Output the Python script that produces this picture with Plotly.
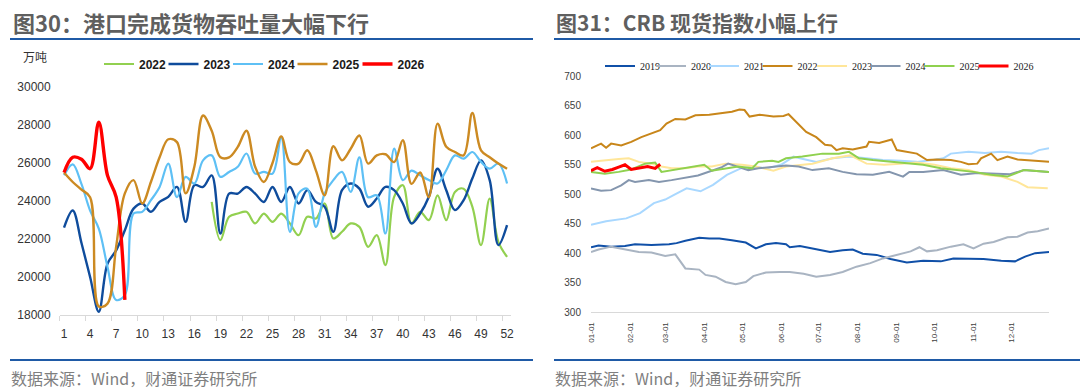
import plotly.graph_objects as go
import pandas as pd

# ---------------- Left chart: port cargo throughput (万吨), weekly ----------------
weeks = list(range(1, 53))
week_ticks = list(range(1, 53, 3))

port_2022 = [None] * 17 + [23950, 21940, 23170, 23340, 23430, 22820, 23340, 22900, 23340, 22820,
                           22200, 23170, 23080, 23870, 22030, 22380, 22820, 22640, 21590, 22200,
                           20630, 24220, 24830, 22820, 23430, 22990, 24300, 22990, 24480, 24650,
                           23700, 21680, 24130, 21850, 21060]
port_2023 = [22600, 23500, 21800, 20000, 18170, 20700, 21400, 22460, 23600, 23870,
             23430, 23950, 24220, 24740, 22900, 24830, 24740, 25350, 22290, 24390,
             24390, 24740, 24390, 23950, 24740, 23950, 24740, 23870, 24570, 23950,
             23700, 22380, 24570, 24920, 24650, 23700, 24130, 24740, 24570, 23870,
             22820, 23340, 24220, 25700, 24570, 23520, 24040, 25180, 26140, 25100,
             21680, 22730]
port_2024 = [25350, 25930, 24900, 23500, 22550, 20540, 18790, 19050, 23340, 23430,
             24040, 24740, 25970, 24200, 25270, 24920, 26140, 26400, 25270, 25530,
             25800, 26500, 25440, 25530, 25440, 27330, 22380, 24400, 24650, 22640,
             24400, 25100, 25530, 24480, 26300, 24200, 24300, 22290, 26760, 25100,
             25600, 25350, 25100, 24920, 25620, 26400, 26230, 26580, 26060, 25700,
             25970, 24920]
port_2025 = [25500, 25000, 24600, 24200, 18450, 18600, 21600, 24400, 25100, 23870,
             25000, 26300, 27250, 27100, 24400, 25800, 28500, 27700, 26300, 26300,
             26850, 27700, 25800, 25000, 26000, 27400, 26050, 25970, 26670, 25600,
             24300, 26880, 26140, 26750, 27450, 25970, 26400, 26460, 26050, 27200,
             24900, 25500, 24200, 28070, 26850, 26580, 26400, 28630, 26670, 26300,
             25970, 25700]
port_2026 = [25500, 26300, 26200, 25700, 28150, 25350, 24200, 18800]

port_names = ["2022", "2023", "2024", "2025", "2026"]
port_colors = ["#92D050", "#0F4C9C", "#5EC0F5", "#CC8A22", "#FF0000"]
port_widths = [2.2, 2.4, 2.2, 2.4, 3.4]
port_series = [port_2022, port_2023, port_2024, port_2025, port_2026]
port_legend_x = [99, 163.5, 228, 292.5, 357.5]          # legend entry left edges (px)

# ---------------- Right chart: CRB spot index, day-of-year ----------------
crb_2019_d = [0, 6, 16, 27, 35, 48, 62, 68, 75, 86, 94, 102, 112, 123, 131, 139, 147, 155, 158, 166,
              176, 186, 190, 200, 208, 216, 227, 238, 251, 264, 278, 288, 302, 312, 326, 337, 345, 353, 364]
crb_2019_v = [410, 413, 411, 412, 415, 414, 415, 417, 421, 426, 425, 425, 422, 418, 408, 415, 417, 415, 410, 412,
              408, 404, 402, 405, 406, 399, 397, 390, 384, 387, 386, 391, 390, 390, 387, 386, 394, 400, 402]
crb_2020_d = [0, 6, 16, 27, 38, 48, 59, 67, 75, 86, 91, 99, 107, 115, 123, 129, 139, 150, 158, 169,
              179, 190, 200, 211, 222, 232, 243, 254, 261, 267, 275, 286, 296, 304, 312, 320, 331, 339, 347, 355, 364]
crb_2020_v = [402, 406, 411, 406, 402, 401, 395, 398, 374, 372, 363, 360, 351, 347, 351, 361, 367, 368, 368, 365,
              360, 363, 368, 377, 383, 391, 397, 403, 410, 403, 405, 411, 415, 408, 416, 419, 427, 428, 435, 437, 442]
crb_2021_d = [0, 12, 28, 39, 50, 59, 66, 76, 87, 97, 108, 119, 129, 140, 151, 161, 166, 179, 192, 205,
              219, 232, 246, 259, 272, 280, 286, 300, 313, 326, 339, 350, 356, 364]
crb_2021_v = [448, 454, 459, 468, 485, 491, 499, 510, 505, 516, 533, 544, 547, 544, 550, 564, 561, 555, 561, 564,
              561, 558, 557, 555, 558, 561, 569, 572, 570, 572, 570, 569, 575, 578]
crb_2022_d = [0, 8, 12, 16, 24, 32, 40, 48, 55, 60, 67, 75, 83, 94, 104, 112, 118, 122, 126, 134,
              145, 153, 157, 163, 171, 179, 186, 191, 195, 200, 208, 219, 221, 229, 239, 243, 252, 259, 267, 275,
              286, 294, 300, 307, 310, 318, 323, 331, 339, 350, 364]
crb_2022_v = [578, 586, 579, 586, 583, 589, 597, 603, 609, 620, 628, 627, 634, 635, 638, 640, 644, 643, 632, 635,
              632, 633, 636, 623, 606, 597, 584, 583, 575, 578, 576, 581, 589, 587, 593, 575, 572, 569, 558, 559,
              558, 555, 551, 552, 561, 569, 558, 564, 559, 557, 555]
crb_2023_d = [0, 11, 22, 30, 38, 48, 56, 64, 75, 85, 96, 107, 120, 131, 145, 155, 166, 176, 192, 206,
              219, 233, 246, 259, 273, 286, 300, 313, 326, 339, 347, 363]
crb_2023_v = [555, 558, 560, 561, 555, 552, 547, 544, 544, 547, 547, 552, 550, 547, 540, 547, 550, 552, 561, 566,
              552, 550, 552, 554, 550, 544, 541, 533, 530, 521, 512, 510]
crb_2024_d = [0, 8, 16, 24, 30, 35, 46, 54, 64, 75, 85, 96, 104, 109, 117, 125, 133, 144, 155, 165,
              176, 189, 200, 211, 224, 237, 248, 253, 264, 280, 294, 307, 320, 333, 344, 354, 364]
crb_2024_v = [510, 506, 507, 515, 524, 521, 524, 521, 524, 528, 532, 540, 546, 552, 546, 541, 544, 547, 549, 547,
              541, 544, 538, 534, 533, 538, 530, 538, 538, 541, 533, 536, 535, 534, 541, 540, 538]
crb_2025_d = [0, 11, 22, 32, 43, 51, 56, 64, 75, 83, 90, 96, 107, 117, 128, 133, 144, 149, 155, 168,
              184, 197, 205, 213, 224, 237, 251, 264, 278, 291, 304, 318, 331, 344, 354, 364]
crb_2025_v = [538, 535, 538, 542, 552, 554, 538, 541, 544, 547, 550, 540, 544, 547, 544, 555, 557, 555, 561, 564,
              569, 569, 572, 561, 558, 555, 552, 550, 544, 541, 538, 533, 530, 541, 540, 538]
crb_2026_d = [0, 5, 11, 17, 22, 27, 32, 40, 45, 51, 55]
crb_2026_v = [540, 545, 539, 542, 546, 550, 542, 545, 547, 544, 551]

crb_names = ["2019", "2020", "2021", "2022", "2023", "2024", "2025", "2026"]
crb_colors = ["#1050A8", "#A9B4C2", "#A9D8FF", "#C8861A", "#FFE699", "#8496AE", "#8FD14F", "#FF0000"]
crb_widths = [2, 2, 2, 2, 2, 2, 2, 3]
crb_days = [crb_2019_d, crb_2020_d, crb_2021_d, crb_2022_d, crb_2023_d, crb_2024_d, crb_2025_d, crb_2026_d]
crb_vals = [crb_2019_v, crb_2020_v, crb_2021_v, crb_2022_v, crb_2023_v, crb_2024_v, crb_2025_v, crb_2026_v]
crb_legend_x = [600, 651, 704, 757.5, 812, 865.5, 919.5, 973.5]   # legend entry left edges (px)
month_ticks = ["01-01", "02-01", "03-01", "04-01", "05-01", "06-01",
               "07-01", "08-01", "09-01", "10-01", "11-01", "12-01"]

W, H = 1080, 391
def px_x(x): return x / W
def px_y(y): return 1 - y / H

fig = go.Figure()
layout_legends = {}

for i, (name, col, lw, ys) in enumerate(zip(port_names, port_colors, port_widths, port_series)):
    lg = "legend" if i == 0 else f"legend{i + 1}"
    fig.add_trace(go.Scatter(
        x=weeks[:len(ys)], y=ys, name=name, mode="lines",
        line=dict(color=col, width=lw, shape="spline", smoothing=1.0),
        connectgaps=False, xaxis="x", yaxis="y", legend=lg))
    layout_legends[lg] = dict(
        orientation="h", x=px_x(port_legend_x[i]), xanchor="left",
        y=px_y(64), yanchor="middle", itemwidth=30,
        font=dict(family="Liberation Sans, Arial", size=12, color="#1a1a1a", weight="bold"),
        bgcolor="rgba(0,0,0,0)")

base = pd.Timestamp("2021-01-01")
for j, (name, col, lw, ds, vs) in enumerate(zip(crb_names, crb_colors, crb_widths, crb_days, crb_vals)):
    lg = f"legend{len(port_names) + j + 1}"
    dates = [base + pd.Timedelta(days=d) for d in ds]
    fig.add_trace(go.Scatter(
        x=dates, y=vs, name=name, mode="lines",
        line=dict(color=col, width=lw),
        xaxis="x2", yaxis="y2", legend=lg))
    layout_legends[lg] = dict(
        orientation="h", x=px_x(crb_legend_x[j]), xanchor="left",
        y=px_y(66), yanchor="middle", itemwidth=30,
        font=dict(family="Liberation Serif, Times New Roman", size=10, color="#1a1a1a"),
        bgcolor="rgba(0,0,0,0)")

tick_font = dict(family="Liberation Sans, Arial", size=12, color="#333333")
month_dates = [base + pd.DateOffset(months=m) for m in range(12)]

fig.update_layout(
    width=W, height=H,
    margin=dict(l=0, r=0, t=0, b=0, autoexpand=False),
    paper_bgcolor="white", plot_bgcolor="white",
    showlegend=True,
    xaxis=dict(
        domain=[px_x(59.7), px_x(511.4)], range=[0.5, 52.5],
        tickmode="array", tickvals=week_ticks, ticktext=[str(t) for t in week_ticks],
        ticks="", showgrid=False, zeroline=False,
        showline=True, linecolor="#D9D9D9", linewidth=1,
        tickfont=tick_font, automargin=False, ticklabelstandoff=8,
        minor=dict(tickmode="linear", tick0=0.5, dtick=3, ticks="outside",
                   ticklen=5, tickcolor="#D9D9D9", showgrid=False),
        anchor="y"),
    yaxis=dict(
        domain=[px_y(315), px_y(87)], range=[18000, 30000],
        tickmode="linear", tick0=18000, dtick=2000, tickformat="d",
        showgrid=False, zeroline=False, showline=False, ticks="",
        tickfont=tick_font, ticklabelstandoff=8, automargin=False, anchor="x"),
    xaxis2=dict(
        domain=[px_x(591), px_x(1049)], type="date",
        range=["2021-01-01", "2021-12-31"],
        tickmode="array", tickvals=month_dates, ticktext=month_ticks, tickangle=-90,
        ticks="outside", ticklen=6, tickcolor="rgba(0,0,0,0)",
        showgrid=False, zeroline=False,
        showline=True, linecolor="#D9D9D9", linewidth=1,
        tickfont=dict(family="Liberation Sans, Arial", size=8, color="#404040"),
        automargin=False, anchor="y2"),
    yaxis2=dict(
        domain=[px_y(312), px_y(76.5)], range=[300, 700],
        tickmode="linear", tick0=300, dtick=50,
        showgrid=False, zeroline=False, showline=False, ticks="",
        tickfont=dict(family="Liberation Sans, Arial", size=10, color="#404040"),
        ticklabelstandoff=9, automargin=False, anchor="x2"),
)
fig.update_layout(layout_legends)

src_font = dict(family="Noto Sans CJK SC", size=16, color="#7F7F7F")
fig.add_annotation(text="图30：港口完成货物吞吐量大幅下行", x=px_x(11), y=px_y(22),
                   xref="paper", yref="paper", xanchor="left", yanchor="middle",
                   showarrow=False,
                   font=dict(family="Noto Sans CJK SC", size=22, color="#5F5F5F", weight="bold"))
fig.add_annotation(text="图31：CRB 现货指数小幅上行", x=px_x(554), y=px_y(22),
                   xref="paper", yref="paper", xanchor="left", yanchor="middle",
                   showarrow=False,
                   font=dict(family="Noto Sans CJK SC", size=21, color="#5F5F5F", weight="bold"))
fig.add_annotation(text="万吨", x=px_x(21), y=px_y(57),
                   xref="paper", yref="paper", xanchor="left", yanchor="middle",
                   showarrow=False, font=dict(family="Noto Sans CJK SC", size=12, color="#333333"))
for sx in (9, 553):
    fig.add_annotation(text="数据来源：Wind，财通证券研究所", x=px_x(sx), y=px_y(378),
                       xref="paper", yref="paper", xanchor="left", yanchor="middle",
                       showarrow=False, font=src_font)

line_col = "#1F5AA6"
for x0, x1 in ((10, 533), (554, 1080)):
    for yy in (39, 360):
        fig.add_shape(type="line", xref="paper", yref="paper",
                      x0=px_x(x0), x1=px_x(x1), y0=px_y(yy), y1=px_y(yy),
                      line=dict(color=line_col, width=2))

fig.write_html("out.html", config={"displayModeBar": False},
               post_script="document.body.style.margin='0px';")
